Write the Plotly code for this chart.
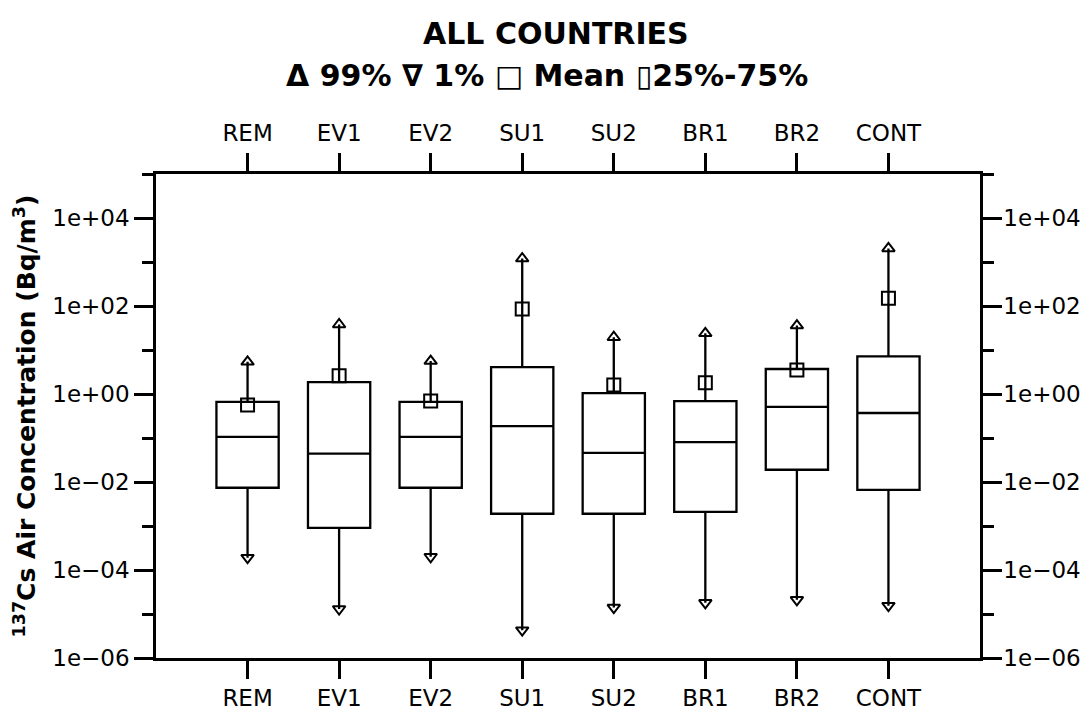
import plotly.graph_objects as go

categories = ["REM", "EV1", "EV2", "SU1", "SU2", "BR1", "BR2", "CONT"]
positions = [1, 2, 3, 4, 5, 6, 7, 8]
p1 = [1.9e-4, 1.3e-5, 2.0e-4, 4.3e-6, 1.4e-5, 1.8e-5, 2.1e-5, 1.55e-5]
q1 = [7.4e-3, 9.1e-4, 7.4e-3, 1.9e-3, 1.9e-3, 2.1e-3, 1.9e-2, 6.6e-3]
median = [0.106, 0.044, 0.106, 0.186, 0.046, 0.081, 0.51, 0.37]
q3 = [0.66, 1.86, 0.66, 4.1, 1.05, 0.69, 3.7, 7.2]
p99 = [5.4, 38, 5.6, 1200, 19.5, 24, 36, 2040]
mean = [0.56, 2.6, 0.69, 85, 1.6, 1.8, 3.5, 150]

ytickvals = [1e-6, 1e-4, 1e-2, 1, 1e2, 1e4]
yticktext = ["1e\u221206", "1e\u221204", "1e\u221202", "1e+00", "1e+02", "1e+04"]
yminor = [1e-5, 1e-3, 1e-1, 1e1, 1e3, 1e5]

FONT = "DejaVu Sans"

fig = go.Figure()
fig.add_trace(go.Box(
    x=positions, q1=q1, median=median, q3=q3,
    lowerfence=p1, upperfence=p99,
    width=0.68, whiskerwidth=0, boxpoints=False,
    line=dict(color="black", width=2.3), fillcolor="white",
    showlegend=False, hoverinfo="skip",
))
fig.add_trace(go.Scatter(
    x=positions, y=mean, mode="markers",
    marker=dict(symbol="square-open", size=13, color="black", line=dict(width=2)),
    showlegend=False, hoverinfo="skip",
))
fig.add_trace(go.Scatter(
    x=positions, y=p99, mode="markers",
    marker=dict(symbol="triangle-up-open", size=11, color="black", line=dict(width=2)),
    showlegend=False, hoverinfo="skip",
))
fig.add_trace(go.Scatter(
    x=positions, y=p1, mode="markers",
    marker=dict(symbol="triangle-down-open", size=11, color="black", line=dict(width=2)),
    showlegend=False, hoverinfo="skip",
))
# invisible trace to activate mirrored top/right axes
fig.add_trace(go.Scatter(
    x=[positions[0]], y=[median[0]], xaxis="x2", yaxis="y2", mode="markers",
    marker=dict(opacity=0), showlegend=False, hoverinfo="skip",
))

xcommon = dict(
    range=[0, 9], tickmode="array", tickvals=positions, ticktext=categories,
    ticks="outside", ticklen=18, tickwidth=2.5, tickcolor="black",
    showline=True, linewidth=2.5, linecolor="black", showgrid=False, zeroline=False,
    tickfont=dict(family=FONT, size=23, color="black"), automargin=False,
)
ycommon = dict(
    type="log", range=[-6, 5], tickmode="array", tickvals=ytickvals, ticktext=yticktext,
    ticks="outside", ticklen=19, tickwidth=2.5, tickcolor="black",
    showline=True, linewidth=2.5, linecolor="black", showgrid=False, zeroline=False,
    tickfont=dict(family=FONT, size=23, color="black"), automargin=False,
    minor=dict(tickvals=yminor, ticks="outside", ticklen=11, tickwidth=2.5, tickcolor="black", showgrid=False),
)

fig.update_layout(
    width=1080, height=707,
    margin=dict(l=148, r=108, t=166, b=57),
    paper_bgcolor="white", plot_bgcolor="white",
    font=dict(family=FONT, color="black"),
    xaxis=dict(**xcommon, side="bottom", anchor="y"),
    xaxis2=dict(**xcommon, side="top", overlaying="x", anchor="y2", ticklabelstandoff=3),
    yaxis=dict(**ycommon, side="left", anchor="x",
               title=dict(text="<b><sup>137</sup>Cs Air Concentration (Bq/m<sup>3</sup>)</b>",
                          font=dict(family=FONT, size=25, color="black"), standoff=10)),
    yaxis2=dict(**ycommon, side="right", overlaying="y", anchor="x2", ticklabelstandoff=-3),
    annotations=[
        dict(text="<b>ALL COUNTRIES</b>", xref="paper", yref="paper",
             x=0.485, y=1.291, xanchor="center", yanchor="middle",
             showarrow=False, font=dict(family=FONT, size=30, color="black")),
        dict(text="<b>\u0394 99% \u2207 1% \u25a1 Mean \u25af25%-75%</b>", xref="paper", yref="paper",
             x=0.4745, y=1.2025, xanchor="center", yanchor="middle",
             showarrow=False, font=dict(family=FONT, size=30, color="black")),
    ],
)

fig.write_html("out.html")
